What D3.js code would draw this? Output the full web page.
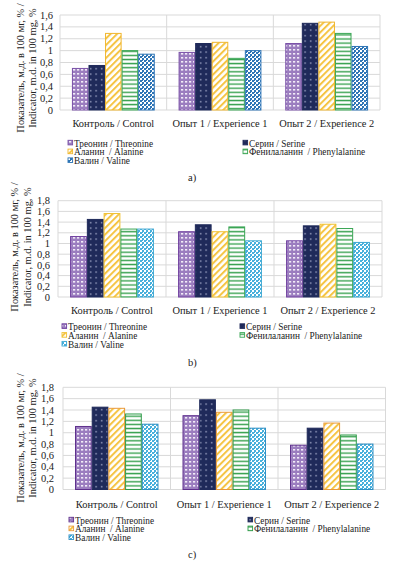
<!DOCTYPE html>
<html>
<head>
<meta charset="utf-8">
<script src="https://cdn.jsdelivr.net/npm/d3@7"></script>
<style>
  html, body { margin: 0; padding: 0; background: #fff; }
</style>
</head>
<body>
<svg id="chart" width="393" height="563"></svg>
<script>
// values (rows = categories, columns = amino acids)
const categories = ["Контроль / Control", "Опыт 1 / Experience 1", "Опыт 2 / Experience 2"];
const seriesNames = ["Треонин / Threonine", "Серин / Serine", "Аланин  / Alanine", "Фенилаланин  / Phenylalanine", "Валин / Valine"];
const seriesKeys = ["thr", "ser", "ala", "phe", "val"];

const valuesA = [
  [0.70, 0.75, 1.29, 1.00, 0.94],
  [0.97, 1.12, 1.14, 0.87, 1.00],
  [1.12, 1.46, 1.48, 1.29, 1.07]
];
const valuesB = [
  [1.13, 1.45, 1.56, 1.27, 1.27],
  [1.22, 1.35, 1.22, 1.31, 1.05],
  [1.05, 1.33, 1.36, 1.28, 1.02]
];
const valuesC = [
  [1.11, 1.45, 1.43, 1.33, 1.15],
  [1.30, 1.58, 1.36, 1.40, 1.08],
  [0.78, 1.08, 1.17, 0.96, 0.80]
];
const ticksA = [0, 0.2, 0.4, 0.6, 0.8, 1, 1.2, 1.4, 1.6];
const ticksBC = [0, 0.2, 0.4, 0.6, 0.8, 1, 1.2, 1.4, 1.6, 1.8];
const titleLines = ["Показатель, м.д. в 100 мг, % /", "Indicator, m.d. in 100 mg, %"];
const panelLabels = ["a)", "b)", "c)"];

const FONT = "'Liberation Serif', 'Times New Roman', serif";

const svg = d3.select("#chart")
  .attr("font-family", FONT);
svg.append("rect").attr("width", 393).attr("height", 563).attr("fill", "#fff");
const defs = svg.append("defs");

// hatch patterns, roughly like the Excel fills
function makePatterns(suffix, valColor) {
  let p = defs.append("pattern").attr("id", "thr" + suffix)
    .attr("patternUnits", "userSpaceOnUse").attr("width", 4).attr("height", 4);
  p.append("rect").attr("width", 4).attr("height", 4).attr("fill", "#9b7dbf");
  p.append("rect").attr("x", 1).attr("y", 1).attr("width", 2.2).attr("height", 1.6).attr("fill", "#f2ecf8");

  p = defs.append("pattern").attr("id", "ser" + suffix)
    .attr("patternUnits", "userSpaceOnUse").attr("width", 5.5).attr("height", 5.5);
  p.append("rect").attr("width", 5.5).attr("height", 5.5).attr("fill", "#1f2a5a");
  p.append("rect").attr("x", 2).attr("y", 2).attr("width", 1.3).attr("height", 1.3).attr("fill", "#b9bfdc");

  p = defs.append("pattern").attr("id", "ala" + suffix)
    .attr("patternUnits", "userSpaceOnUse").attr("width", 4.6).attr("height", 4.6)
    .attr("patternTransform", "rotate(45)");
  p.append("rect").attr("width", 4.6).attr("height", 4.6).attr("fill", "#fff");
  p.append("rect").attr("width", 2).attr("height", 4.6).attr("fill", "#f5c443");

  p = defs.append("pattern").attr("id", "phe" + suffix)
    .attr("patternUnits", "userSpaceOnUse").attr("width", 4).attr("height", 4.1);
  p.append("rect").attr("width", 4).attr("height", 4.1).attr("fill", "#fff");
  p.append("rect").attr("y", 1.4).attr("width", 4).attr("height", 1.4).attr("fill", "#34a04c");

  p = defs.append("pattern").attr("id", "val" + suffix)
    .attr("patternUnits", "userSpaceOnUse").attr("width", 4).attr("height", 4);
  p.append("rect").attr("width", 4).attr("height", 4).attr("fill", "#fff");
  p.append("rect").attr("width", 2).attr("height", 2).attr("fill", valColor);
  p.append("rect").attr("x", 2).attr("y", 2).attr("width", 2).attr("height", 2).attr("fill", valColor);
  p.append("rect").attr("x", 2).attr("y", 0).attr("width", 1).attr("height", 1).attr("fill", valColor);
}
makePatterns("A", "#2e75b6");
makePatterns("B", "#48b0dc");

const panels = [
  { values: valuesA, ticks: ticksA, ymax: 1.6, left: 60, right: 380, top: 15, bottom: 110,
    tickX: 53, titleX: [20, 32], titleY: 68, catY: 126.5, legY: 146.5, legX: [68, 243],
    labelY: 181, pat: "A", borders: ["#7b52a8", "#1f2a5a", "#f0b62e", "#3aa655", "#2e75b6"] },
  { values: valuesB, ticks: ticksBC, ymax: 1.8, left: 58, right: 382, top: 200.7, bottom: 297,
    tickX: 50, titleX: [14, 27], titleY: 247, catY: 313.5, legY: 330, legX: [62, 240],
    labelY: 366, pat: "B", borders: ["#6f3f9f", "#1f2a5a", "#f0c030", "#3aa655", "#3fa8d2"] },
  { values: valuesC, ticks: ticksBC, ymax: 1.8, left: 63, right: 385.5, top: 387.3, bottom: 489.5,
    tickX: 54, titleX: [20, 32], titleY: 438, catY: 507.5, legY: 523.5, legX: [69, 248],
    labelY: 558, pat: "B", borders: ["#5e2f8c", "#1f2a5a", "#e99a3a", "#2e9a48", "#2f8fc4"] }
];

const fmt = v => String(+v.toFixed(1)).replace(".", ",");

panels.forEach((cfg, pi) => {
  const g = svg.append("g").attr("fill", "#222");

  const y = d3.scaleLinear().domain([0, cfg.ymax]).range([cfg.bottom, cfg.top]);
  const x0 = d3.scaleBand().domain(categories).range([cfg.left, cfg.right]).padding(0);
  const x1 = d3.scaleBand().domain(seriesKeys).range([0, x0.bandwidth()])
    .paddingInner(0).paddingOuter(0.72);

  // horizontal gridlines
  g.selectAll(".grid")
    .data(cfg.ticks)
    .enter()
    .append("line")
    .attr("x1", cfg.left).attr("x2", cfg.right)
    .attr("y1", d => y(d)).attr("y2", d => y(d))
    .attr("stroke", "#d9d9d9").attr("stroke-width", 1);

  // category dividers
  const edges = categories.map(c => x0(c)).concat([cfg.right]);
  g.selectAll(".div")
    .data(edges)
    .enter()
    .append("line")
    .attr("x1", d => d).attr("x2", d => d)
    .attr("y1", cfg.top).attr("y2", cfg.bottom)
    .attr("stroke", "#d9d9d9").attr("stroke-width", 1);

  // y tick labels
  g.selectAll(".tick")
    .data(cfg.ticks)
    .enter()
    .append("text")
    .attr("x", cfg.tickX)
    .attr("y", d => y(d) + 3.6)
    .attr("text-anchor", "end")
    .attr("font-size", 10.5)
    .text(fmt);

  // bars
  categories.forEach((cat, ci) => {
    g.selectAll(".bar" + ci)
      .data(cfg.values[ci].map((v, si) => ({ key: seriesKeys[si], v: v, si: si })))
      .enter()
      .append("rect")
      .attr("x", d => x0(cat) + x1(d.key) + 0.5)
      .attr("y", d => y(d.v))
      .attr("width", x1.bandwidth() - 1)
      .attr("height", d => cfg.bottom - y(d.v))
      .attr("fill", d => `url(#${d.key}${cfg.pat})`)
      .attr("stroke", d => cfg.borders[d.si])
      .attr("stroke-width", 1);
  });

  // category labels
  g.selectAll(".cat")
    .data(categories)
    .enter()
    .append("text")
    .attr("x", d => x0(d) + x0.bandwidth() / 2)
    .attr("y", cfg.catY)
    .attr("text-anchor", "middle")
    .attr("font-size", 10.4)
    .text(d => d);

  // y axis title, two rotated lines
  titleLines.forEach((line, li) => {
    g.append("text")
      .attr("transform", `translate(${cfg.titleX[li] + 3.5},${cfg.titleY}) rotate(-90)`)
      .attr("text-anchor", "middle")
      .attr("font-size", 10.4)
      .text(line);
  });

  // legend, two columns
  seriesNames.forEach((name, si) => {
    const col = si % 2, row = Math.floor(si / 2);
    const lx = cfg.legX[col], ly = cfg.legY + row * 8.8;
    g.append("rect")
      .attr("x", lx).attr("y", ly - 6.2)
      .attr("width", 4.6).attr("height", 4.6)
      .attr("fill", `url(#${seriesKeys[si]}${cfg.pat})`)
      .attr("stroke", cfg.borders[si]).attr("stroke-width", 0.9);
    g.append("text")
      .attr("x", lx + 6)
      .attr("y", ly)
      .attr("font-size", 9.3)
      .attr("xml:space", "preserve")
      .style("white-space", "pre")
      .text(name);
  });

  // panel label
  g.append("text")
    .attr("x", 188)
    .attr("y", cfg.labelY)
    .attr("font-size", 10.5)
    .text(panelLabels[pi]);
});
</script>
</body>
</html>
